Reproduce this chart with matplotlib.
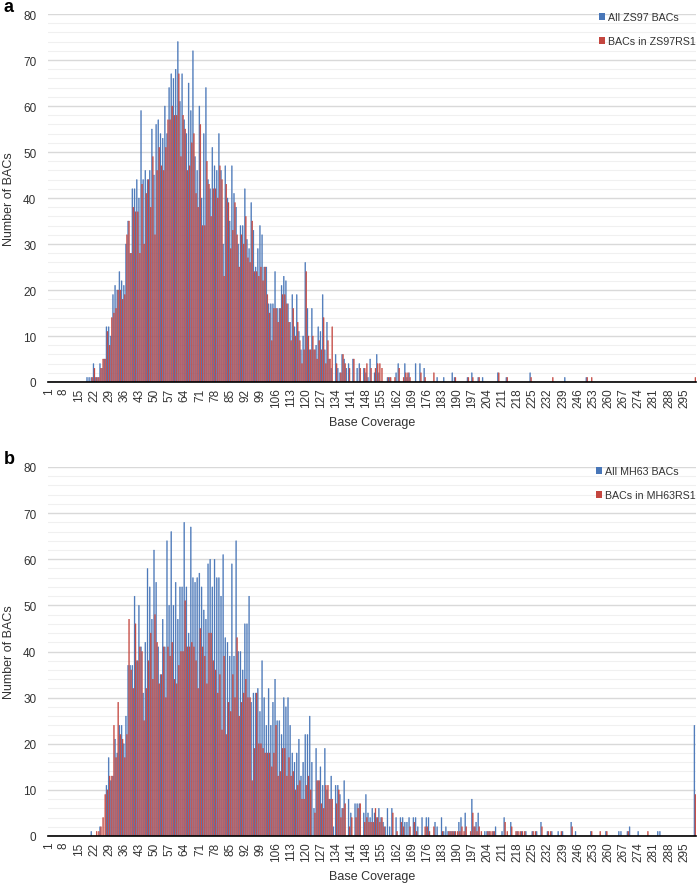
import matplotlib
matplotlib.use("Agg")
import matplotlib.pyplot as plt
import numpy as np
from matplotlib.patches import Patch

plt.rcParams['font.family'] = ['Liberation Sans', 'DejaVu Sans']

# Base coverage categories 1..300
categories = list(range(1, 301))

# ---- Panel a: ZS97 ----
a_all_dense = [  # categories 19..190
    1, 1, 1, 4, 1, 1, 4, 3, 5, 12, 12, 10, 19, 21, 20, 24, 22, 21, 30, 35,
    28, 42, 42, 44, 40, 59, 44, 46, 44, 46, 55, 45, 56, 57, 54, 53, 60, 54, 64, 67,
    66, 68, 74, 61, 67, 57, 54, 65, 59, 72, 49, 46, 60, 40, 54, 64, 44, 42, 51, 47,
    46, 54, 46, 30, 47, 40, 35, 47, 41, 38, 30, 34, 34, 42, 31, 29, 39, 33, 25, 29,
    34, 32, 25, 25, 17, 17, 17, 24, 16, 16, 21, 23, 22, 17, 13, 19, 12, 19, 11, 7,
    10, 26, 16, 7, 16, 7, 8, 12, 11, 19, 7, 13, 5, 3, 0, 6, 3, 2, 6, 5,
    3, 4, 0, 5, 0, 3, 4, 0, 3, 2, 1, 5, 0, 2, 6, 2, 0, 0, 0, 1,
    1, 0, 0, 2, 4, 0, 0, 4, 1, 2, 0, 0, 4, 0, 4, 0, 3, 0, 0, 0,
    0, 0, 1, 0, 0, 1, 0, 0, 0, 2, 1, 0]
a_rs_dense = [  # categories 19..190
    0, 0, 1, 3, 1, 1, 3, 5, 5, 11, 8, 14, 15, 16, 20, 20, 18, 19, 32, 35,
    28, 38, 37, 37, 28, 43, 30, 41, 44, 38, 49, 32, 46, 51, 47, 46, 51, 57, 57, 60,
    58, 58, 67, 49, 58, 55, 46, 47, 52, 54, 41, 38, 56, 34, 34, 48, 43, 36, 42, 42,
    40, 47, 44, 23, 43, 39, 29, 33, 39, 32, 25, 32, 30, 36, 27, 26, 35, 24, 24, 23,
    25, 22, 25, 19, 15, 9, 16, 16, 13, 16, 19, 19, 17, 13, 9, 16, 10, 13, 9, 4,
    7, 24, 10, 7, 10, 7, 5, 9, 7, 14, 4, 9, 5, 12, 0, 4, 0, 2, 6, 4,
    0, 3, 0, 5, 0, 0, 3, 0, 3, 4, 0, 3, 0, 3, 4, 4, 3, 0, 0, 1,
    1, 0, 1, 0, 3, 0, 1, 2, 2, 1, 0, 0, 0, 0, 2, 0, 1, 0, 0, 0,
    2, 0, 0, 0, 0, 0, 0, 0, 0, 0, 1, 0]
a_all_tail = {195: 1, 197: 2, 200: 1, 202: 1, 209: 2, 213: 1, 224: 2, 240: 1, 250: 1}
a_rs_tail = {195: 1, 197: 1, 200: 1, 209: 2, 213: 1, 224: 1, 234: 1, 250: 1, 252: 1, 300: 1}

# ---- Panel b: MH63 ----
b_all_dense = [  # categories 19..190
    0, 0, 1, 0, 0, 0, 2, 0, 0, 11, 17, 12, 13, 21, 18, 24, 24, 20, 26, 37,
    37, 37, 52, 38, 50, 41, 31, 42, 58, 54, 47, 62, 55, 41, 35, 47, 41, 64, 50, 66,
    50, 55, 47, 54, 54, 68, 54, 44, 67, 56, 55, 56, 57, 54, 49, 47, 59, 60, 54, 60,
    56, 56, 52, 61, 43, 42, 39, 59, 39, 64, 40, 40, 36, 46, 46, 52, 29, 31, 31, 32,
    27, 38, 30, 24, 32, 24, 29, 34, 25, 25, 22, 30, 28, 30, 24, 18, 16, 18, 21, 13,
    16, 22, 22, 26, 16, 6, 19, 12, 15, 11, 19, 10, 8, 13, 2, 11, 11, 9, 6, 12,
    0, 8, 5, 0, 7, 7, 7, 0, 5, 9, 5, 4, 6, 5, 4, 6, 4, 3, 2, 6,
    2, 6, 0, 4, 0, 4, 4, 3, 3, 4, 0, 4, 4, 2, 0, 4, 0, 4, 4, 0,
    0, 3, 2, 0, 4, 1, 2, 1, 1, 1, 1, 0]
b_rs_dense = [  # categories 19..190
    0, 0, 0, 0, 1, 1, 2, 4, 9, 10, 13, 13, 24, 17, 29, 22, 21, 17, 22, 47,
    36, 32, 46, 38, 41, 40, 25, 32, 38, 44, 34, 48, 42, 33, 35, 41, 30, 41, 39, 42,
    34, 33, 37, 40, 40, 51, 41, 41, 42, 41, 38, 32, 45, 41, 39, 33, 44, 44, 38, 36,
    31, 35, 23, 39, 22, 29, 27, 35, 30, 43, 26, 29, 31, 34, 30, 30, 12, 19, 31, 20,
    20, 19, 18, 18, 18, 15, 18, 24, 13, 14, 19, 19, 13, 17, 13, 14, 10, 11, 12, 8,
    8, 11, 13, 10, 0, 5, 12, 12, 7, 6, 11, 11, 8, 8, 0, 7, 10, 4, 6, 7,
    0, 2, 4, 0, 4, 6, 7, 0, 3, 4, 3, 3, 3, 6, 4, 3, 4, 2, 0, 0,
    0, 5, 0, 1, 0, 3, 2, 0, 0, 2, 0, 3, 1, 0, 0, 0, 2, 2, 1, 0,
    2, 0, 0, 0, 1, 0, 0, 1, 1, 1, 1, 1]
b_all_tail = {191: 3, 192: 4, 194: 5, 197: 8, 198: 2, 199: 3, 200: 5, 203: 1, 204: 1,
              205: 1, 207: 1, 208: 2, 211: 1, 212: 4, 215: 3, 218: 1, 220: 1, 222: 1,
              225: 1, 227: 1, 229: 3, 232: 1, 234: 1, 237: 1, 239: 1, 243: 3, 245: 1,
              252: 1, 259: 1, 265: 1, 266: 1, 269: 1, 270: 2, 274: 1, 283: 1, 284: 1,
              300: 24}
b_rs_tail = {191: 1, 192: 2, 193: 1, 194: 2, 196: 1, 197: 5, 198: 2, 199: 1, 200: 2,
             201: 1, 204: 1, 205: 1, 206: 1, 207: 1, 212: 3, 213: 1, 215: 2, 217: 1,
             218: 1, 219: 1, 220: 1, 221: 1, 225: 1, 226: 1, 229: 2, 232: 1, 233: 1,
             238: 1, 243: 2, 252: 1, 256: 1, 259: 1, 269: 1, 278: 1, 300: 9}

legend_a = ['All ZS97 BACs', 'BACs in ZS97RS1']
legend_b = ['All MH63 BACs', 'BACs in MH63RS1']
ytick_vals = list(range(0, 81, 10))
xtick_labels = list(range(1, 301, 7))


def build(dense, tail):
    vals = [0] * 18 + list(dense)
    vals = vals + [0] * (300 - len(vals))
    for k, v in tail.items():
        vals[k - 1] = v
    return np.array(vals)


BLUE = '#4876b8'
RED = '#c4463f'

fig = plt.figure(figsize=(6.97, 8.87), dpi=100)
W, H = 697, 887


def panel(rect, all_vals, rs_vals, labels, letter, letter_y, leg_y):
    ax = fig.add_axes(rect)
    x = np.array(categories)
    w = 0.44
    b1 = ax.bar(x - 0.23, all_vals, width=w, color=BLUE, edgecolor=BLUE, linewidth=0.25,
                zorder=3)
    b2 = ax.bar(x + 0.23, rs_vals, width=w, color=RED, edgecolor=RED, linewidth=0.25,
                zorder=3)
    for p in list(b1) + list(b2):
        p.set_snap(False)
    ax.set_xlim(0.5, 300.5)
    ax.set_ylim(0, 80)
    ax.set_yticks(ytick_vals)
    ax.set_yticks(np.arange(0, 81, 2), minor=True)
    ax.grid(axis='y', which='major', color='#d9d9d9', linewidth=1.0, zorder=0)
    ax.grid(axis='y', which='minor', color='#f0f0f0', linewidth=0.8, zorder=0)
    ax.set_xticks(xtick_labels)
    ax.set_xticklabels([str(t) for t in xtick_labels], rotation=90, fontsize=8.5,
                       color='#333333')
    ax.tick_params(axis='x', length=0, pad=4)
    ax.tick_params(axis='y', which='both', length=0, labelsize=8.5, labelcolor='#333333', pad=8)
    for s in ['top', 'right', 'left']:
        ax.spines[s].set_visible(False)
    ax.spines['bottom'].set_color('black')
    ax.spines['bottom'].set_linewidth(1.2)
    ax.spines['bottom'].set_zorder(4)
    ax.set_xlabel('Base Coverage', fontsize=9, color='#333333', labelpad=6)
    ax.set_ylabel('Number of BACs', fontsize=9, color='#333333', labelpad=6)
    handles = [Patch(facecolor=BLUE, edgecolor='none'), Patch(facecolor=RED, edgecolor='none')]
    ax.legend(handles, labels, loc='upper right', bbox_to_anchor=(1.0, leg_y), frameon=False,
              fontsize=7.7, handlelength=0.6, handleheight=0.6, handletextpad=0.3,
              labelspacing=1.3, borderaxespad=0.0, borderpad=0.0, labelcolor='#333333')
    fig.text(4 / W, 1 - letter_y / H, letter, fontsize=13, fontweight='bold', va='center',
             ha='left')
    return ax


left = 47.5 / W
width = (696 - 47.5) / W
ax_a = panel([left, 1 - 383 / H, width, (383 - 15) / H], build(a_all_dense, a_all_tail),
             build(a_rs_dense, a_rs_tail), legend_a, 'a', 8, 1 - (13 - 15) / (383 - 15))
ax_b = panel([left, 1 - 837 / H, width, (837 - 468) / H], build(b_all_dense, b_all_tail),
             build(b_rs_dense, b_rs_tail), legend_b, 'b', 460, 1 - (467 - 468) / (837 - 468))

fig.savefig('out.png', dpi=100)
